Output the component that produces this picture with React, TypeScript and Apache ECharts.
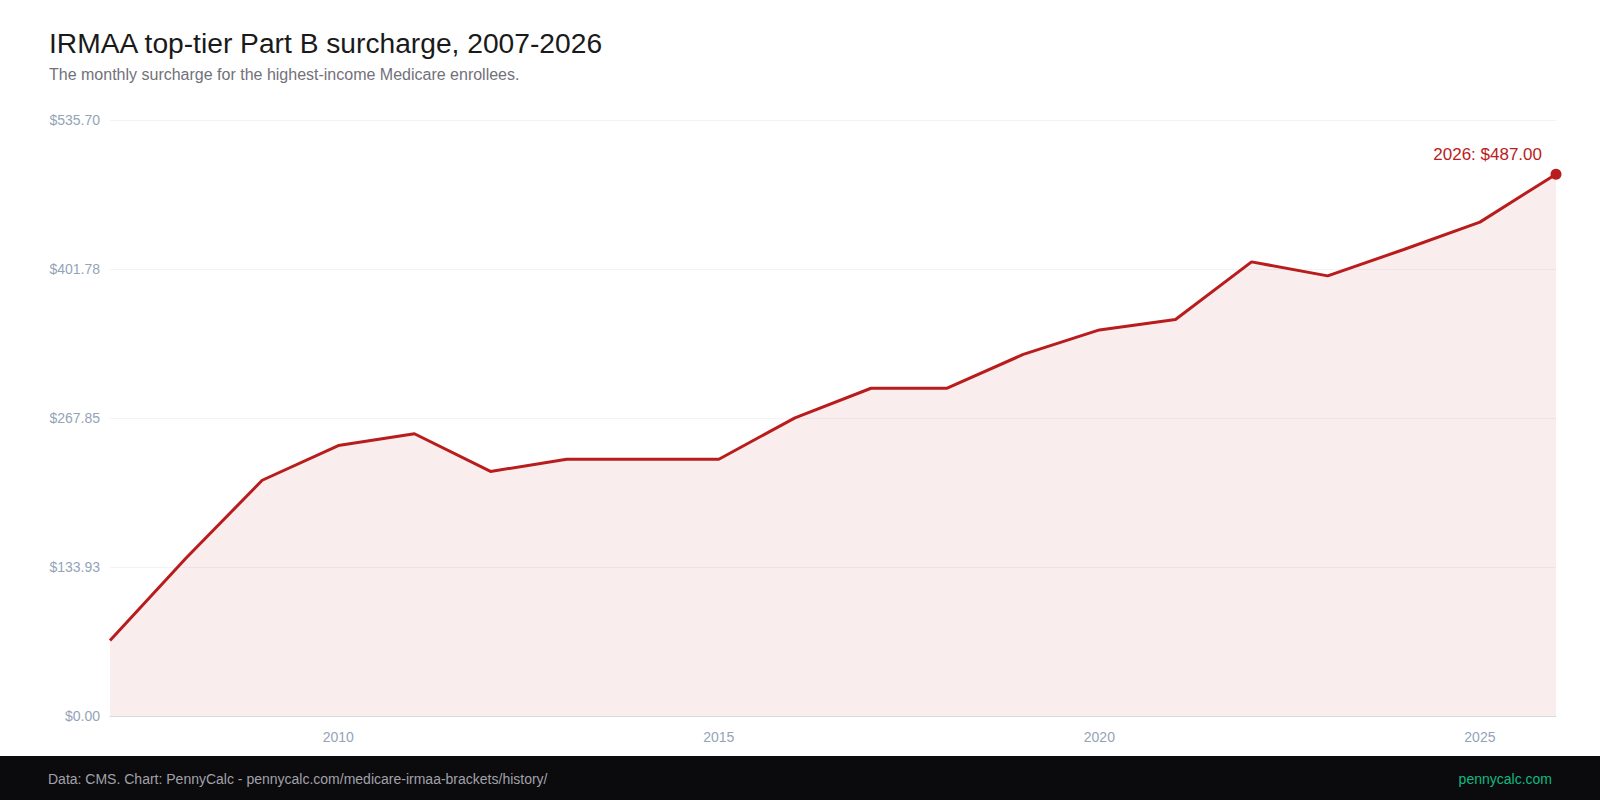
import React, { useEffect, useRef } from "react";
import * as echarts from "echarts";

const years: string[] = [
  "2007", "2008", "2009", "2010", "2011", "2012", "2013", "2014", "2015", "2016",
  "2017", "2018", "2019", "2020", "2021", "2022", "2023", "2024", "2025", "2026",
];
const surcharge: number[] = [
  67.9, 142.0, 211.9, 243.1, 253.7, 219.8, 230.8, 230.8, 230.8, 268.0,
  294.6, 294.6, 325.0, 347.0, 356.4, 408.2, 395.6, 419.3, 443.9, 487.0,
];
const yTickLabels: string[] = ["$0.00", "$133.93", "$267.85", "$401.78", "$535.70"];
const yMax = 535.7;
const xLabelYears: string[] = ["2010", "2015", "2020", "2025"];

const RED = "#b91c1c";
const FONT = "'Liberation Sans', Arial, Helvetica, sans-serif";

export default function App() {
  const ref = useRef<HTMLDivElement>(null);
  useEffect(() => {
    if (!ref.current) return;
    const chart = echarts.init(ref.current, null, { renderer: "svg" });
    const interval = yMax / (yTickLabels.length - 1);
    const lastIdx = surcharge.length - 1;
    chart.setOption({
      animation: false,
      backgroundColor: "#ffffff",
      textStyle: { fontFamily: FONT },
      grid: { left: 110, right: 44, top: 120, bottom: 84, containLabel: false },
      xAxis: {
        type: "category",
        data: years,
        boundaryGap: false,
        axisLine: { show: true, lineStyle: { color: "#d5dbe3", width: 1 } },
        axisTick: { show: false },
        splitLine: { show: false },
        axisLabel: {
          color: "#94a3b8",
          fontSize: 14,
          fontFamily: FONT,
          margin: 14,
          interval: (_idx: number, val: string) => xLabelYears.includes(val),
        },
      },
      yAxis: {
        type: "value",
        min: 0,
        max: yMax,
        interval: interval,
        axisLine: { show: false },
        axisTick: { show: false },
        splitLine: { show: true, lineStyle: { color: "#f1f3f6", width: 1 } },
        axisLabel: {
          color: "#94a3b8",
          fontSize: 14,
          fontFamily: FONT,
          margin: 10,
          formatter: (v: number) => yTickLabels[Math.round(v / interval)] ?? "",
        },
      },
      series: [
        {
          type: "line",
          data: surcharge.map((v, i) =>
            i === lastIdx
              ? {
                  value: v,
                  symbol: "circle",
                  symbolSize: 11,
                  itemStyle: { color: RED },
                  label: {
                    show: true,
                    position: "top",
                    align: "right",
                    offset: [-14, 0],
                    distance: 6,
                    formatter: () => `${years[i]}: $${v.toFixed(2)}`,
                    color: RED,
                    fontSize: 17,
                    fontFamily: FONT,
                  },
                }
              : { value: v, symbol: "none" }
          ),
          showSymbol: true,
          lineStyle: { color: RED, width: 3 },
          itemStyle: { color: RED },
          areaStyle: { color: "rgba(185,28,28,0.11)" },
          z: 3,
        },
      ],
      graphic: [
        {
          type: "text",
          x: 49,
          y: 42.5,
          style: {
            text: "IRMAA top-tier Part B surcharge, 2007-2026",
            fill: "#1a1a1a",
            fontSize: 28.2,
            fontFamily: FONT,
            verticalAlign: "middle",
          },
        },
        {
          type: "text",
          x: 49,
          y: 74,
          style: {
            text: "The monthly surcharge for the highest-income Medicare enrollees.",
            fill: "#71717a",
            fontSize: 16,
            fontFamily: FONT,
            verticalAlign: "middle",
          },
        },
        {
          type: "rect",
          x: 0,
          y: 756,
          shape: { width: 1600, height: 44 },
          style: { fill: "#0b0b0d" },
          z: 10,
        },
        {
          type: "text",
          x: 48,
          y: 779,
          style: {
            text: "Data: CMS. Chart: PennyCalc - pennycalc.com/medicare-irmaa-brackets/history/",
            fill: "#a1a1aa",
            fontSize: 14,
            fontFamily: FONT,
            verticalAlign: "middle",
          },
          z: 11,
        },
        {
          type: "text",
          x: 1552,
          y: 779,
          style: {
            text: "pennycalc.com",
            fill: "#10b981",
            fontSize: 14,
            fontFamily: FONT,
            align: "right",
            verticalAlign: "middle",
          },
          z: 11,
        },
      ],
    });
    return () => chart.dispose();
  }, []);
  return (
    <div
      ref={ref}
      style={{ position: "fixed", left: 0, top: 0, width: 1600, height: 800 }}
    />
  );
}
